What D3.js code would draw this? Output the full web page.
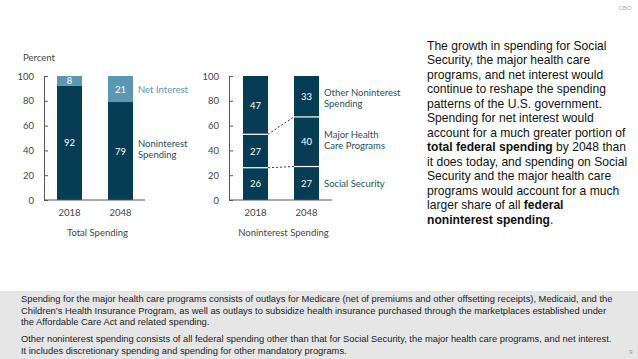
<!DOCTYPE html>
<html><head><meta charset="utf-8">
<script src="https://cdn.jsdelivr.net/npm/d3@7"></script>
<style>
body{margin:0;background:#fff;}
svg{display:block;}
</style></head><body>
<svg id="c" width="638" height="359"></svg>
<script>
const years = ["2018", "2048"];
const totalNoninterest = [92, 79];
const totalNetInterest = [8, 21];
const nonSocialSecurity = [26, 27];
const nonHealth = [27, 40];
const nonOther = [47, 33];
const yTicks = [0, 20, 40, 60, 80, 100];
const leftSeries = ["Noninterest Spending", "Net Interest"];
const rightSeries = ["Social Security", "Major Health Care Programs", "Other Noninterest Spending"];
const sideText = [
  [["The growth in spending for Social",0]],
  [["Security, the major health care",0]],
  [["programs, and net interest would",0]],
  [["continue to reshape the spending",0]],
  [["patterns of the U.S. government.",0]],
  [["Spending for net interest would",0]],
  [["account for a much greater portion of",0]],
  [["total federal spending",1],[" by 2048 than",0]],
  [["it does today, and spending on Social",0]],
  [["Security and the major health care",0]],
  [["programs would account for a much",0]],
  [["larger share of all ",0],["federal",1]],
  [["noninterest spending",1],[".",0]]
];
const notes1 = [
  "Spending for the major health care programs consists of outlays for Medicare (net of premiums and other offsetting receipts), Medicaid, and the",
  "Children’s Health Insurance Program, as well as outlays to subsidize health insurance purchased through the marketplaces established under",
  "the Affordable Care Act and related spending."
];
const notes2 = [
  "Other noninterest spending consists of all federal spending other than that for Social Security, the major health care programs, and net interest.",
  "It includes discretionary spending and spending for other mandatory programs."
];

const dark = "#063d55", light = "#5b97b2", axisC = "#555", textC = "#444";
const chartFont = "Lato, 'Open Sans', sans-serif";
const svg = d3.select("#c");

// footer
svg.append("rect").attr("x",0).attr("y",291).attr("width",638).attr("height",68).attr("fill","#e6e6e6");
const ft = svg.append("g").attr("font-family","'Liberation Sans', Arial, sans-serif").attr("font-size",9.35).attr("fill","#222");
notes1.forEach((t,i)=>ft.append("text").attr("x",21).attr("y",302+i*11.5).text(t));
notes2.forEach((t,i)=>ft.append("text").attr("x",21).attr("y",342+i*11.5).text(t));
svg.append("text").attr("x",631).attr("y",354).attr("font-size",6).attr("fill","#999").attr("font-family","sans-serif").attr("text-anchor","middle").text("9");
svg.append("text").attr("x",625).attr("y",10).attr("font-size",6).attr("fill","#aaa").attr("font-family","sans-serif").attr("text-anchor","middle").text("CBO");

// side text
const st = svg.append("g").attr("font-family","'Liberation Sans', Arial, sans-serif").attr("font-size",12.1).attr("fill","#111");
sideText.forEach((line,i)=>{
  const t = st.append("text").attr("x",427).attr("y",49.5+i*14.5);
  line.forEach(([s,b])=>t.append("tspan").attr("font-weight",b?"bold":"normal").text(s));
});

const y = d3.scaleLinear().domain([0,100]).range([200,76]);

function drawAxis(x0, x1, xScale, title){
  const g = svg.append("g").attr("font-family",chartFont).attr("fill",textC);
  const ax = svg.append("g").attr("transform",`translate(${x0},0)`)
    .call(d3.axisLeft(y).tickValues(yTicks).tickSize(-4).tickPadding(10).tickSizeOuter(0));
  ax.select(".domain").attr("stroke",axisC);
  ax.selectAll(".tick line").attr("stroke",axisC);
  ax.selectAll(".tick text").attr("font-family",chartFont).attr("font-size",9.5).attr("fill",textC);
  svg.append("line").attr("x1",x0).attr("x2",x1).attr("y1",y(0)).attr("y2",y(0)).attr("stroke",axisC);
  years.forEach(yr=>g.append("text").attr("x",xScale(yr)+xScale.bandwidth()/2).attr("y",216)
    .attr("text-anchor","middle").attr("font-size",9.5).text(yr));
  g.append("text").attr("x",(x0+x1)/2+3).attr("y",236).attr("text-anchor","middle").attr("font-size",9.5).text(title);
}

// left chart
const xL2 = d3.scalePoint().domain(years).range([57,108]);
const bwL = 25;
const xLeft = Object.assign(yr=>xL2(yr), {bandwidth:()=>bwL});
svg.append("text").attr("x",23).attr("y",61).attr("font-family",chartFont).attr("font-size",9.5).attr("fill",textC).text("Percent");
const leftStack = d3.stack().keys([0,1]).value((d,k)=>k===0?totalNoninterest[d]:totalNetInterest[d])(years.map((_,i)=>i));
const lColors = [dark, light];
leftStack.forEach((layer,k)=>{
  layer.forEach((d,i)=>{
    svg.append("rect").attr("x",xLeft(years[i])).attr("width",bwL)
      .attr("y",y(d[1])).attr("height",y(d[0])-y(d[1])).attr("fill",lColors[k]);
    svg.append("text").attr("x",xLeft(years[i])+bwL/2).attr("y",(y(d[0])+y(d[1]))/2+3.5)
      .attr("text-anchor","middle").attr("font-family",chartFont).attr("font-size",9.5).attr("fill","#fff")
      .text(k===0?totalNoninterest[i]:totalNetInterest[i]);
  });
});
drawAxis(44,145,xLeft,"Total Spending");
svg.append("text").attr("x",138).attr("y",y(89.5)+3.5).attr("font-family",chartFont).attr("font-size",9.5).attr("fill",light).text("Net Interest");
const nsl = svg.append("text").attr("font-family",chartFont).attr("font-size",9.5).attr("fill","#1f4e62");
nsl.append("tspan").attr("x",138).attr("y",y(43)).text("Noninterest");
nsl.append("tspan").attr("x",138).attr("y",y(43)+11).text("Spending");

// right chart
const xR2 = d3.scalePoint().domain(years).range([243,294]);
const xRight = Object.assign(yr=>xR2(yr), {bandwidth:()=>bwL});
const rightVals = [nonSocialSecurity, nonHealth, nonOther];
const rightStack = d3.stack().keys([0,1,2]).value((d,k)=>rightVals[k][d])(years.map((_,i)=>i));
rightStack.forEach((layer,k)=>{
  layer.forEach((d,i)=>{
    svg.append("rect").attr("x",xRight(years[i])).attr("width",bwL)
      .attr("y",y(d[1])).attr("height",y(d[0])-y(d[1])).attr("fill",dark);
    svg.append("text").attr("x",xRight(years[i])+bwL/2).attr("y",(y(d[0])+y(d[1]))/2+3.5)
      .attr("text-anchor","middle").attr("font-family",chartFont).attr("font-size",9.5).attr("fill","#fff")
      .text(rightVals[k][i]);
  });
});
// separators and dashed connectors
[0,1].forEach(k=>{
  const layer = rightStack[k];
  layer.forEach((d,i)=>{
    svg.append("line").attr("x1",xRight(years[i])).attr("x2",xRight(years[i])+bwL)
      .attr("y1",y(d[1])).attr("y2",y(d[1])).attr("stroke","#fff").attr("stroke-width",1.2);
  });
  svg.append("line").attr("x1",xRight(years[0])+bwL).attr("x2",xRight(years[1]))
    .attr("y1",y(layer[0][1])).attr("y2",y(layer[1][1]))
    .attr("stroke","#222").attr("stroke-width",0.9).attr("stroke-dasharray","2,2");
});
drawAxis(229,332,xRight,"Noninterest Spending");
const rlab = [[["Social Security"], y(13.5)+3.5],[["Major Health","Care Programs"], y(50)],[["Other Noninterest","Spending"], y(84)]];
rlab.forEach(([lines,yy])=>{
  const t = svg.append("text").attr("font-family",chartFont).attr("font-size",9.5).attr("fill","#1f4e62");
  lines.forEach((s,j)=>t.append("tspan").attr("x",324).attr("y",yy+j*11).text(s));
});
</script>
</body></html>
